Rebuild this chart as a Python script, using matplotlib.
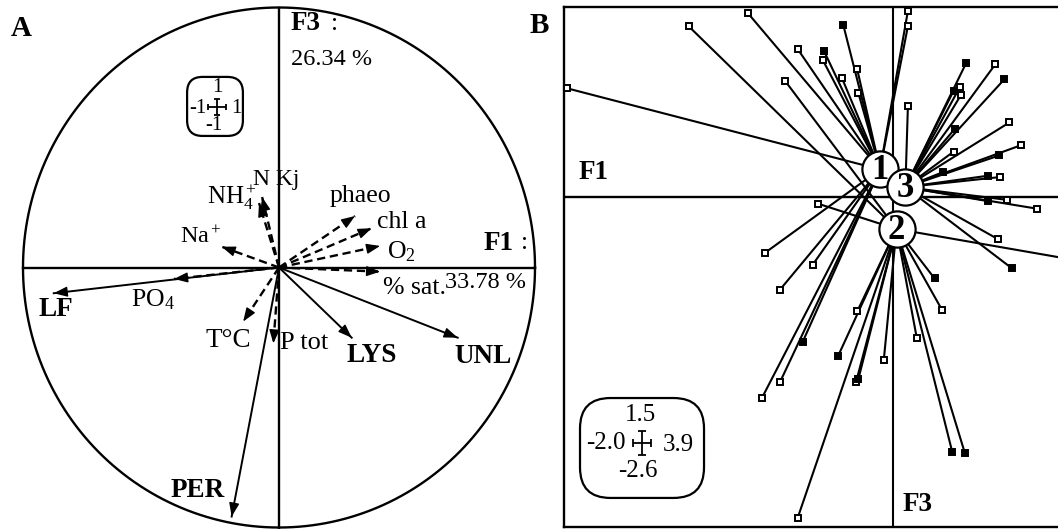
import numpy as np
import matplotlib
matplotlib.use('Agg')
import matplotlib.pyplot as plt
from matplotlib.patches import FancyBboxPatch

plt.rcParams['font.family'] = ['Liberation Serif', 'DejaVu Serif']
plt.rcParams['mathtext.fontset'] = 'custom'
plt.rcParams['mathtext.rm'] = 'Liberation Serif'
plt.rcParams['mathtext.it'] = 'Liberation Serif:italic'
plt.rcParams['mathtext.bf'] = 'Liberation Serif:bold'

# ---------------- Panel A : correlation circle (F1 x F3) ----------------
var_names = ['LF', 'PO4', 'T°C', 'PER', 'P tot', 'LYS', 'UNL', '% sat.', 'O2',
             'chl a', 'phaeo', 'N Kj', 'NH4+', 'Na+']
var_f1 = [-0.88, -0.41, -0.14, -0.185, -0.022, 0.284, 0.698, 0.395, 0.395,
          0.362, 0.297, -0.066, -0.078, -0.224]
var_f3 = [-0.099, -0.044, -0.208, -0.958, -0.292, -0.270, -0.270, -0.016, 0.083,
          0.151, 0.198, 0.271, 0.248, 0.080]
var_dashed = [False, True, True, False, True, False, False, True, True,
              True, True, True, True, True]

label_text = ['LF', r'PO$_4$', 'T°C', 'PER', 'P tot', 'LYS', 'UNL', '% sat.', r'O$_2$',
              'chl a', 'phaeo', 'N Kj', r'NH$_4^+$', r'Na$^+$']
label_x = [-0.871, -0.492, -0.199, -0.316, 0.098, 0.363, 0.797, 0.531, 0.478,
           0.478, 0.318, -0.012, -0.184, -0.305]
label_y = [-0.163, -0.125, -0.279, -0.856, -0.29, -0.337, -0.344, -0.079, 0.062,
           0.175, 0.275, 0.337, 0.271, 0.117]
label_bold = [True, False, False, True, False, True, True, False, False,
              False, False, False, False, False]
label_size = [19.5, 18.5, 19.5, 19.5, 19, 19.5, 19.5, 18.5, 18.5,
              18.5, 18.5, 17, 18, 17.5]

f1_pct_A = '33.78 %'
f3_pct_A = '26.34 %'

# ---------------- Panel B : sample scores grouped by class ----------------
class_ids = ['1', '3', '2']
class_x = [-0.10, 0.10, 0.03]
class_y = [0.22, 0.08, -0.25]

samp_x = [-2.57, -1.61, -1.14, -0.75, -0.85, -0.54, -0.55, -0.39, -0.28, -0.40,
          -0.27, 0.12, 0.12, 0.12, 0.58, 0.81, 0.88, 0.48, 0.53, 0.54,
          0.49, 0.92, 1.01, 0.84, 0.48, 0.40, 0.75, 0.85, 0.90, 1.14,
          0.75, 0.83, 1.64, 0.94, 0.33, 0.39, 0.19, 0.47, 0.57, -0.07,
          -0.29, -0.27, -0.43, -0.28, -0.71, -0.89, -1.03, -0.89, -0.63, -1.01,
          -0.59, -0.75]
samp_y = [0.86, 1.35, 1.45, 1.17, 0.92, 1.15, 1.08, 1.36, 1.01, 0.94,
          0.82, 1.47, 1.35, 0.72, 1.06, 1.05, 0.93, 0.84, 0.87, 0.81,
          0.54, 0.59, 0.41, 0.33, 0.36, 0.20, 0.17, 0.16, -0.02, -0.09,
          -0.03, -0.33, -0.53, -0.56, -0.64, -0.89, -1.11, -2.01, -2.02, -1.28,
          -1.46, -1.43, -1.25, -0.90, -1.14, -1.46, -1.58, -0.73, -0.53, -0.44,
          -0.05, -2.53]
samp_class = ['1', '2', '1', '1', '2', '1', '1', '1', '1', '1',
              '1', '1', '1', '3', '3', '3', '3', '3', '3', '3',
              '3', '3', '3', '3', '3', '3', '3', '3', '3', '3',
              '3', '3', '2', '3', '2', '2', '2', '2', '2', '2',
              '2', '2', '2', '2', '1', '1', '1', '1', '1', '1',
              '2', '2']
samp_filled = [False, False, False, False, False, True, False, True, False, False,
               False, False, False, False, True, False, True, True, False, False,
               True, False, False, True, False, True, True, False, False, False,
               True, False, False, True, True, False, False, True, True, False,
               False, True, True, False, True, False, False, False, False, False,
               False, False]

scale_B = {'top': '1.5', 'left': '-2.0', 'right': '3.9', 'bottom': '-2.6'}

# ---------------- figure ----------------
W, H = 1058, 529
fig = plt.figure(figsize=(W / 100, H / 100), dpi=100)

# Panel A axes: centre at pixel (279, 267.5), 256 px / unit in x, 260 px / unit in y
sxA, syA = 256.0, 260.0
cxA, cyA = 279.0, 267.5
axA = fig.add_axes([0, 0, 560 / W, 1])
axA.set_xlim(-cxA / sxA, (560 - cxA) / sxA)
axA.set_ylim((cyA - H) / syA, cyA / syA)
axA.axis('off')

t = np.linspace(0, 2 * np.pi, 721)
axA.plot(np.cos(t), np.sin(t), color='k', lw=1.7, clip_on=False)
axA.plot([-1, 1], [0, 0], color='k', lw=1.7)
axA.plot([0, 0], [-1, 1], color='k', lw=1.7)

for x, y, d in zip(var_f1, var_f3, var_dashed):
    if d:
        axA.plot([0, x], [0, y], color='k', lw=1.7, ls=(0, (3.5, 2.0)),
                 solid_capstyle='butt', dash_capstyle='butt')
    else:
        axA.plot([0, x], [0, y], color='k', lw=1.4)
    dxp, dyp = x * sxA, y * syA
    L = np.hypot(dxp, dyp)
    back = 9.0
    xt = x - dxp / L * back / sxA
    yt = y - dyp / L * back / syA
    axA.annotate('', xy=(x, y), xytext=(xt, yt),
                 arrowprops=dict(arrowstyle='-|>,head_length=0.75,head_width=0.28',
                                 lw=1.0, color='k', shrinkA=0, shrinkB=0,
                                 mutation_scale=11))

for s, x, y, b, fs in zip(label_text, label_x, label_y, label_bold, label_size):
    axA.text(x, y, s, ha='center', va='center',
             fontsize=fs, fontweight='bold' if b else 'normal')

axA.text(-1.008, 0.921, 'A', fontsize=21, fontweight='bold', ha='center', va='center')
axA.text(1.016, 0.929, 'B', fontsize=21, fontweight='bold', ha='center', va='center')
axA.text(0.045, 0.938, 'F3', fontsize=19.5, fontweight='bold', ha='left', va='center')
axA.text(0.215, 0.938, ':', fontsize=18, ha='center', va='center')
axA.text(0.045, 0.800, f3_pct_A, fontsize=17.5, ha='left', va='center')
axA.text(0.858, 0.094, 'F1', fontsize=19.5, fontweight='bold', ha='center', va='center')
axA.text(0.960, 0.094, ':', fontsize=18, ha='center', va='center')
axA.text(0.805, -0.058, f1_pct_A, fontsize=17.5, ha='center', va='center')

# small scale box in panel A
boxA = FancyBboxPatch((-0.359, 0.506), 0.218, 0.227,
                      boxstyle='round,pad=0,rounding_size=0.06',
                      fc='white', ec='k', lw=1.6)
axA.add_patch(boxA)
axA.errorbar([-0.242], [0.617], xerr=[0.035], yerr=[0.03], color='k', lw=1.3,
             capsize=2.5, capthick=1.3)
axA.text(-0.242, 0.692, '1', fontsize=15, ha='center', va='center')
axA.text(-0.315, 0.613, '-1', fontsize=15, ha='center', va='center')
axA.text(-0.168, 0.613, '1', fontsize=15, ha='center', va='center')
axA.text(-0.256, 0.545, '-1', fontsize=15, ha='center', va='center')

# Panel B axes: origin at pixel (892.7, 197.3), 126.8 px / unit
sB = 126.8
oxB, oyB = 892.7, 197.3
left_px, right_px, top_px, bot_px = 564.0, 1075.0, 6.7, 526.7
axB = fig.add_axes([left_px / W, (H - bot_px) / H, (right_px - left_px) / W,
                    (bot_px - top_px) / H])
axB.set_xlim((left_px - oxB) / sB, (right_px - oxB) / sB)
axB.set_ylim((oyB - bot_px) / sB, (oyB - top_px) / sB)
axB.set_xticks([])
axB.set_yticks([])
for sp in axB.spines.values():
    sp.set_linewidth(1.7)
axB.axhline(0, color='k', lw=1.7, zorder=1)
axB.axvline(0, color='k', lw=1.5, zorder=1)

cpos = {c: (x, y) for c, x, y in zip(class_ids, class_x, class_y)}
for x, y, c, f in zip(samp_x, samp_y, samp_class, samp_filled):
    cx, cy = cpos[c]
    axB.plot([cx, x], [cy, y], color='k', lw=1.5, zorder=2)
    axB.plot([x], [y], marker='s', ms=3.8, mec='k', mew=1.4,
             mfc='k' if f else 'white', zorder=3, linestyle='none')

for i, c in enumerate(['1', '2', '3']):
    cx, cy = cpos[c]
    axB.scatter([cx], [cy], s=680, facecolor='white', edgecolor='k', lw=1.6,
                zorder=5 + 2 * i)
    axB.text(cx, cy - 0.01, c, fontsize=25, fontweight='bold', ha='center', va='center',
             zorder=6 + 2 * i)

axB.text(-2.36, 0.192, 'F1', fontsize=19.5, fontweight='bold', ha='center', va='center')
axB.text(0.195, -2.42, 'F3', fontsize=19.5, fontweight='bold', ha='center', va='center')

boxB = FancyBboxPatch((-2.466, -2.371), 0.978, 0.788,
                      boxstyle='round,pad=0,rounding_size=0.24',
                      fc='white', ec='k', lw=1.6, zorder=4)
axB.add_patch(boxB)
axB.errorbar([-1.978], [-1.935], xerr=[0.07], yerr=[0.095], color='k', lw=1.3,
             capsize=3, capthick=1.3, zorder=5)
axB.text(-1.991, -1.713, scale_B['top'], fontsize=18, ha='center', va='center', zorder=5)
axB.text(-2.26, -1.935, scale_B['left'], fontsize=18, ha='center', va='center', zorder=5)
axB.text(-1.69, -1.951, scale_B['right'], fontsize=18, ha='center', va='center', zorder=5)
axB.text(-2.007, -2.16, scale_B['bottom'], fontsize=18, ha='center', va='center', zorder=5)

fig.savefig('out.png', dpi=100)
